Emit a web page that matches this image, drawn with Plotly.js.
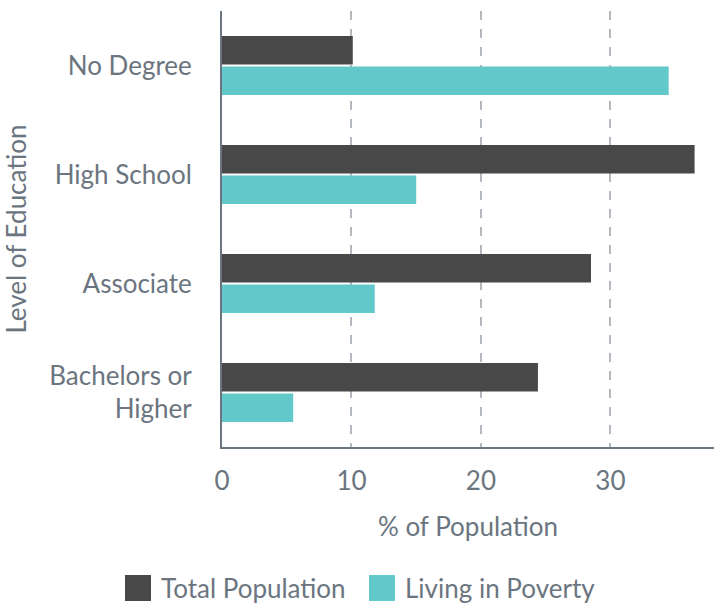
<!DOCTYPE html>
<html><head><meta charset="utf-8">
<script src="https://cdn.plot.ly/plotly-3.0.1.min.js"></script>
<style>html,body{margin:0;padding:0;background:#fff}#chart{width:715px;height:604px}</style>
</head><body><div id="chart"></div>
<script>
const categories = ["No Degree", "High School", "Associate", "Bachelors or<br>Higher"];
const totalPopulation = [10.1, 36.5, 28.5, 24.4];
const livingInPoverty = [34.5, 15.0, 11.8, 5.5];
const seriesNames = ["Total Population", "Living in Poverty"];
const colors = ["#484848", "#62c8ca"];
const textColor = "#6b7580";
const font = "Lato, 'Open Sans', sans-serif";
const fs = 26;

const traces = [
  {type: "bar", orientation: "h", name: seriesNames[0], y: categories, x: totalPopulation,
   marker: {color: colors[0]}, showlegend: false, hoverinfo: "x+y"},
  {type: "bar", orientation: "h", name: seriesNames[1], y: categories, x: livingInPoverty,
   marker: {color: colors[1]}, showlegend: false, hoverinfo: "x+y"}
];

// custom legend (paper coordinates)
const legendItems = [
  {x0: 125, label: seriesNames[0], color: colors[0]},
  {x0: 369, label: seriesNames[1], color: colors[1]}
];
const W = 715, H = 604, mL = 222, mR = 1, mT = 11, mB = 157;
const pw = W - mL - mR, ph = H - mT - mB;
const px = v => (v - mL) / pw;
const py = v => (H - mB - v) / ph;
const shapes = [], annotations = [];
legendItems.forEach(it => {
  shapes.push({type: "rect", xref: "paper", yref: "paper",
    x0: px(it.x0), x1: px(it.x0 + 26), y0: py(601), y1: py(575),
    fillcolor: it.color, line: {width: 0}});
  annotations.push({xref: "paper", yref: "paper", x: px(it.x0 + 34), y: py(588),
    xanchor: "left", yanchor: "middle", showarrow: false, text: it.label,
    font: {family: font, size: fs, color: textColor}});
});

const layout = {
  width: W, height: H,
  margin: {l: mL, r: mR, t: mT, b: mB},
  paper_bgcolor: "#fff", plot_bgcolor: "#fff",
  barmode: "group", bargap: 0.44, bargroupgap: 0.06,
  font: {family: font, size: fs, color: textColor},
  showlegend: false,
  xaxis: {
    range: [0, 38], tickvals: [0, 10, 20, 30], ticktext: ["0", "10", "20", "30"],
    showgrid: true, gridcolor: "#b4b9bf", gridwidth: 2, griddash: "dash",
    zeroline: false, showline: true, linecolor: textColor, linewidth: 2,
    ticks: "", ticklabelstandoff: 10,
    tickfont: {family: font, size: fs, color: textColor},
    title: {text: "% of Population", font: {family: font, size: fs, color: textColor}, standoff: 23}
  },
  yaxis: {
    autorange: "reversed", type: "category",
    showgrid: false, zeroline: false, showline: true, linecolor: textColor, linewidth: 2,
    ticks: "", ticklabelstandoff: 23,
    tickfont: {family: font, size: fs, color: textColor},
    title: {text: "Level of Education", font: {family: font, size: fs, color: textColor}, standoff: 23}
  },
  shapes: shapes, annotations: annotations
};
Plotly.newPlot("chart", traces, layout, {displayModeBar: false, staticPlot: true});
</script></body></html>
